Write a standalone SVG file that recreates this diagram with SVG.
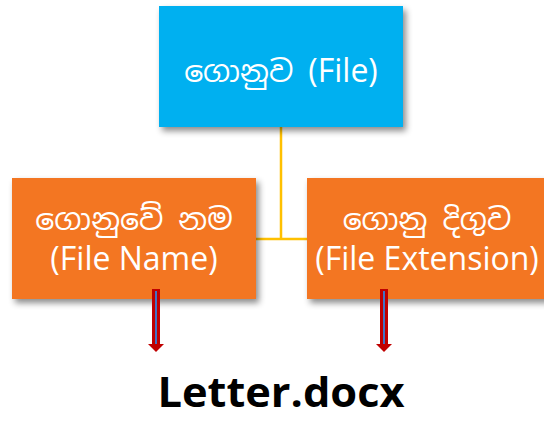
<svg xmlns="http://www.w3.org/2000/svg" width="544" height="421" viewBox="0 0 544 421">
<defs>
<filter id="sh" x="-10%" y="-10%" width="130%" height="140%">
<feDropShadow dx="3" dy="4" stdDeviation="3" flood-color="#000" flood-opacity="0.45"/>
</filter>
<style>
.lbl{font-family:"Noto Sans Sinhala","Iskoola Pota","Open Sans","Liberation Sans",sans-serif;font-size:30px;fill:#fff;text-anchor:middle}
.lat{font-family:"Open Sans","Liberation Sans",sans-serif;font-size:32px;fill:#fff;text-anchor:middle}
.conn{stroke:#FFC000;stroke-width:2.5;fill:none}
.arr{fill:#C00000}
.arrIn{stroke:#4472C4;stroke-width:2}
</style>
</defs>
<rect width="544" height="421" fill="#fff"/>
<g id="connectors">
<path class="conn" d="M281 127 V239 M256 239 H307"/>
</g>
<g id="file">
<rect x="159" y="6" width="244" height="121" fill="#00B0F0" filter="url(#sh)"/>
<text class="lbl" x="281" y="82">ගොනුව <tspan font-family="Open Sans, Liberation Sans, sans-serif" font-size="32">(File)</tspan></text>
</g>
<g id="fileName">
<rect x="12" y="178" width="244" height="121" fill="#F37623" filter="url(#sh)"/>
<text class="lbl" x="134" y="230">ගොනුවේ නම</text>
<text class="lat" x="134" y="270">(File Name)</text>
</g>
<g id="fileExtension">
<rect x="307" y="178" width="244" height="121" fill="#F37623" filter="url(#sh)"/>
<text class="lbl" x="427" y="230">ගොනු දිගුව</text>
<text class="lat" x="427" y="270">(File Extension)</text>
</g>
<g id="arrows">
<path class="arr" d="M152 289 H160 V344 H164 L156 352 L148 344 H152 Z"/>
<line class="arrIn" x1="156" y1="291" x2="156" y2="344"/>
<path class="arr" d="M380 289 H388 V344 H392 L384 352 L376 344 H380 Z"/>
<line class="arrIn" x1="384" y1="291" x2="384" y2="344"/>
</g>
<g id="example">
<text x="281" y="407" font-family="Open Sans, Liberation Sans, sans-serif" font-weight="bold" font-size="41" text-anchor="middle" fill="#000" textLength="247" lengthAdjust="spacingAndGlyphs">Letter.docx</text>
</g>
</svg>
